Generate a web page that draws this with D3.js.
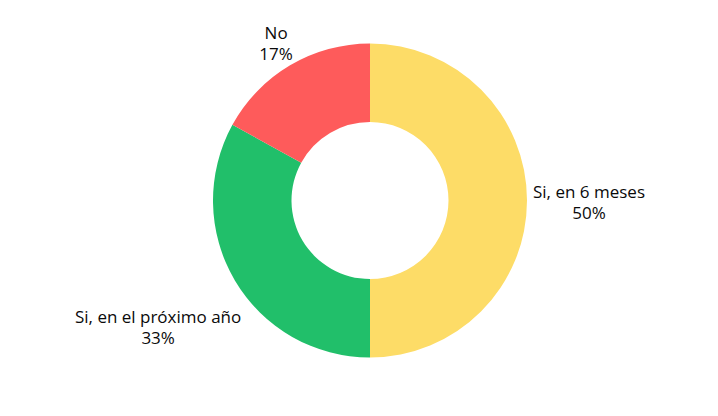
<!DOCTYPE html>
<html>
<head>
<meta charset="utf-8">
<script src="https://cdn.jsdelivr.net/npm/d3@7"></script>
<style>
  html, body { margin: 0; padding: 0; background: #ffffff; }
  svg { display: block; }
  text { font-family: "Open Sans", "Noto Sans", sans-serif; font-size: 17px; fill: #0a0a0a; }
</style>
</head>
<body>
<svg id="chart" width="718" height="416"></svg>
<script>
const categories = ["Si, en 6 meses", "Si, en el próximo año", "No"];
const values = [50, 33, 17];
const percentLabels = ["50%", "33%", "17%"];
const colors = ["#FDDC67", "#21BF6A", "#FE5B5B"];

const W = 718, H = 416;
const cx = 370, cy = 200.5;
const outerR = 157, innerR = 78.5;

const svg = d3.select("#chart");
const g = svg.append("g").attr("transform", `translate(${cx},${cy})`);

const data = categories.map((c, i) => ({ name: c, value: values[i], pct: percentLabels[i], color: colors[i] }));

const pie = d3.pie().value(d => d.value).sort(null);
const arc = d3.arc().innerRadius(innerR).outerRadius(outerR);
const arcs = pie(data);

g.selectAll("path.slice").data(arcs).join("path")
  .attr("class", "slice")
  .attr("d", arc)
  .attr("fill", d => d.data.color);

const lineH = 21.5;
const labels = g.selectAll("g.lbl").data(arcs).join("g").attr("class", "lbl");
labels.each(function(d) {
  const sel = d3.select(this);
  const t1 = sel.append("text").attr("text-anchor", "middle").text(d.data.name);
  const t2 = sel.append("text").attr("text-anchor", "middle").text(d.data.pct);
  const w = Math.max(t1.node().getComputedTextLength(), t2.node().getComputedTextLength());
  const h = 2 * lineH;
  const mid = (d.startAngle + d.endAngle) / 2;
  const dist = outerR + 6 + Math.max(w, h) / 2;
  const x = Math.sin(mid) * dist;
  const y = -Math.cos(mid) * dist;
  t1.attr("x", x).attr("y", y - 3);
  t2.attr("x", x).attr("y", y - 3 + lineH);
});
</script>
</body>
</html>
